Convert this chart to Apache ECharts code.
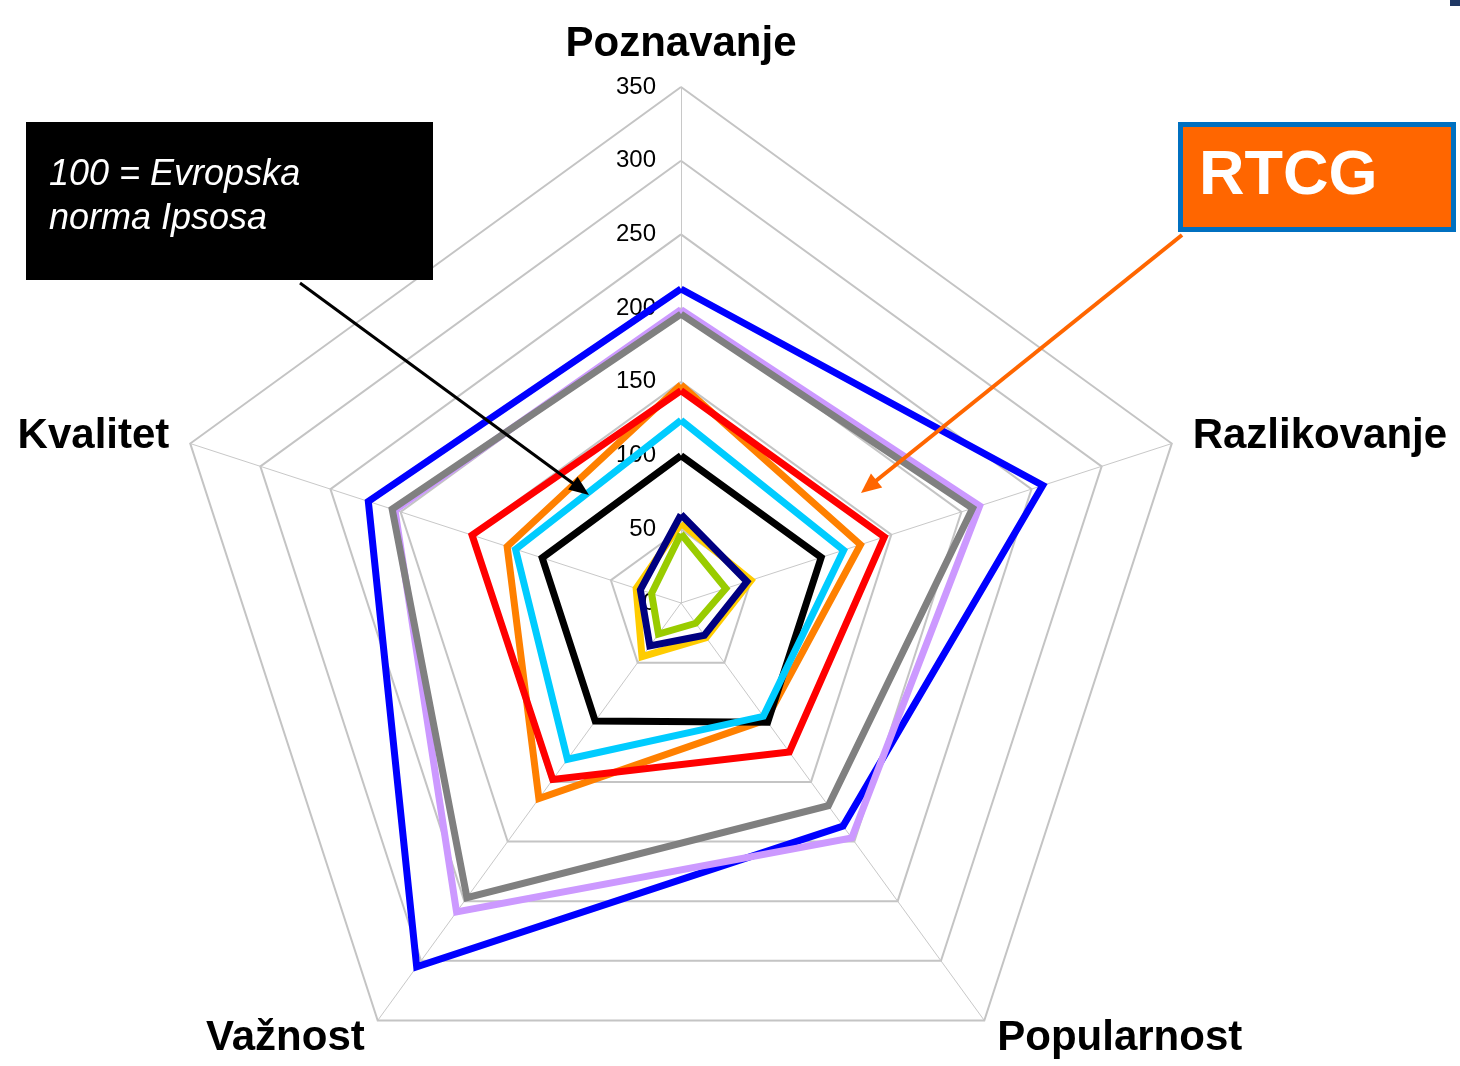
<!DOCTYPE html>
<html>
<head>
<meta charset="utf-8">
<script src="https://cdn.jsdelivr.net/npm/echarts@6/dist/echarts.min.js"></script>
<style>
  html, body { margin: 0; padding: 0; background: #fff; }
  #chart { width: 1460px; height: 1066px; }
</style>
</head>
<body>
<div id="chart"></div>
<script>
// categories, clockwise from the top
const categories = ['Poznavanje', 'Razlikovanje', 'Popularnost', 'Važnost', 'Kvalitet'];
const tickLabels = ['0', '50', '100', '150', '200', '250', '300', '350'];

// one array per polygon, values in category order
const blueValues = [213, 258, 187, 305, 223];
const lilacValues = [199, 213, 197, 259, 204];
const grayValues = [196, 208, 170, 247, 206];
const orangeValues = [148, 128, 98, 164, 124];
const redValues = [144, 145, 125, 148, 149];
const normValues = [100, 100, 100, 99, 99];
const cyanValues = [124, 116, 95, 131, 118];
const yellowValues = [54, 50, 29, 45, 32];
const navyValues = [60, 47, 27, 36, 29];
const greenValues = [47, 32, 17, 26, 21];

const seriesList = [
  { name: 's1', color: '#0000FF', values: blueValues },
  { name: 's2', color: '#CC99FF', values: lilacValues },
  { name: 's3', color: '#808080', values: grayValues },
  { name: 's4', color: '#FF8000', values: orangeValues },
  { name: 's5', color: '#FF0000', values: redValues },
  { name: 'norma', color: '#000000', values: normValues },
  { name: 's6', color: '#00CCFF', values: cyanValues },
  { name: 's7', color: '#FFCC00', values: yellowValues },
  { name: 's8', color: '#000080', values: navyValues },
  { name: 's9', color: '#99CC00', values: greenValues }
];

// echarts lays indicators out counter-clockwise, so reorder
const order = [0, 4, 3, 2, 1];
const maxValue = 350;

const sans = "'Liberation Sans', Arial, sans-serif";

const indicator = order.map(function (i, k) {
  const item = { name: categories[i], min: 0, max: maxValue };
  if (k === 0) {
    item.axisLabel = {
      show: true,
      color: '#000',
      fontSize: 24,
      fontFamily: sans,
      margin: 25,
      formatter: function (v) { return tickLabels[Math.round(v / 50)]; }
    };
  }
  return item;
});

// arrow head polygon from a line
function arrowHead(x1, y1, x2, y2, len, half) {
  const dx = x2 - x1, dy = y2 - y1;
  const l = Math.sqrt(dx * dx + dy * dy);
  const ux = dx / l, uy = dy / l;
  const bx = x2 - ux * len, by = y2 - uy * len;
  return [[x2, y2], [bx - uy * half, by + ux * half], [bx + uy * half, by - ux * half]];
}

const chart = echarts.init(document.getElementById('chart'));
chart.setOption({
  backgroundColor: '#fff',
  animation: false,
  radar: {
    center: [681, 603],
    radius: 516,
    startAngle: 90,
    shape: 'polygon',
    splitNumber: 7,
    indicator: indicator,
    axisName: {
      color: '#000',
      fontSize: 42,
      fontWeight: 'bold',
      fontFamily: sans
    },
    nameGap: 22,
    axisLine: { lineStyle: { color: '#C8C8C8', width: 1 } },
    axisTick: { show: false },
    axisLabel: { show: false },
    splitLine: { lineStyle: { color: '#C4C4C4', width: 2 } },
    splitArea: { show: false }
  },
  series: seriesList.map(function (s) {
    return {
      type: 'radar',
      name: s.name,
      symbol: 'none',
      lineStyle: { color: s.color, width: 7, join: 'miter' },
      itemStyle: { color: s.color },
      data: [{ value: order.map(function (i) { return s.values[i]; }), name: s.name }]
    };
  }),
  graphic: [
    // note box
    { type: 'rect', shape: { x: 26, y: 122, width: 407, height: 158 }, style: { fill: '#000' }, z: 10 },
    {
      type: 'text', x: 49, y: 153, z: 11,
      style: {
        text: '100 = Evropska\nnorma Ipsosa',
        fill: '#fff', fontSize: 36, fontStyle: 'italic',
        fontFamily: sans, lineHeight: 44
      }
    },
    { type: 'line', shape: { x1: 300, y1: 283, x2: 578, y2: 487 }, style: { stroke: '#000', lineWidth: 3 }, z: 10 },
    { type: 'polygon', shape: { points: arrowHead(300, 283, 589, 495, 20, 8) }, style: { fill: '#000' }, z: 10 },
    // RTCG box
    { type: 'rect', shape: { x: 1180.5, y: 124.5, width: 273, height: 105 }, style: { fill: '#FF6600', stroke: '#0070C0', lineWidth: 5 }, z: 10 },
    {
      type: 'text', x: 1199, y: 145, z: 11,
      style: {
        text: 'RTCG', fill: '#fff', fontSize: 63, fontWeight: 'bold',
        fontFamily: sans
      }
    },
    { type: 'line', shape: { x1: 1182, y1: 235, x2: 872, y2: 484 }, style: { stroke: '#FF6600', lineWidth: 4 }, z: 10 },
    { type: 'polygon', shape: { points: arrowHead(1182, 235, 861, 493, 20, 9) }, style: { fill: '#FF6600' }, z: 10 },
    // corner mark
    { type: 'rect', shape: { x: 1450, y: 0, width: 10, height: 6 }, style: { fill: '#1F3864' }, z: 10 }
  ]
});
</script>
</body>
</html>
